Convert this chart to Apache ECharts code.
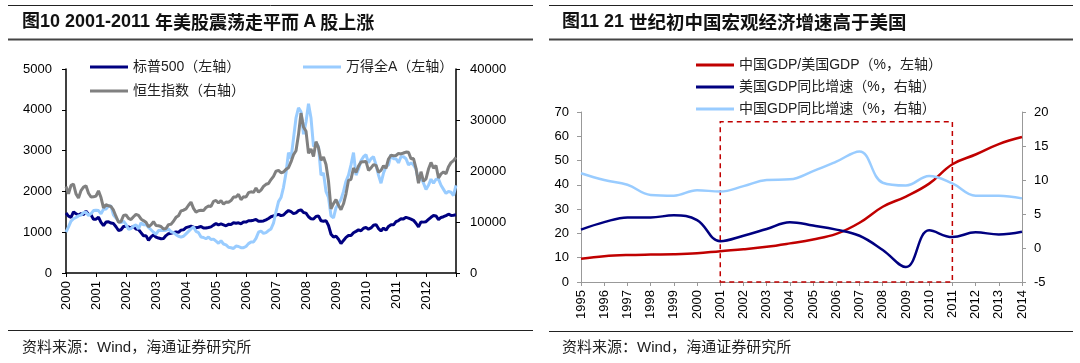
<!DOCTYPE html>
<html><head><meta charset="utf-8">
<script src="https://cdn.jsdelivr.net/npm/echarts@6/dist/echarts.min.js"></script>
<style>html,body{margin:0;padding:0;background:#fff}#c{width:1080px;height:363px}</style>
</head><body><div id="c"></div>
<script>
// ---------- Left chart: monthly closes, index 0 = start of 2000, step = 1 month ----------
const startYear = 2000;
const spx = [1469,
 1394,1366,1499,1452,1421,1455,1431,1518,1437,1429,1315,1320,
 1366,1240,1160,1249,1256,1224,1211,1134,1041,1060,1139,1148,
 1130,1107,1147,1077,1067,990,912,916,800,886,936,880,
 856,841,848,917,964,975,990,1008,996,1051,1058,1112,
 1131,1145,1126,1107,1121,1141,1102,1104,1115,1130,1174,1212,
 1181,1204,1181,1157,1192,1191,1234,1220,1229,1207,1249,1248,
 1280,1281,1295,1311,1270,1270,1277,1304,1336,1378,1401,1418,
 1438,1407,1421,1482,1531,1503,1455,1474,1527,1549,1481,1468,
 1379,1331,1323,1386,1400,1280,1267,1283,1165,950,880,903,
 826,720,798,873,919,919,987,1021,1057,1036,1096,1115,
 1074,1104,1169,1187,1089,1031,1102,1049,1141,1183,1181,1258,
 1286,1327,1326,1364,1345,1321,1292,1219,1131,1253,1247,1258,
 1312,1366,1408,1398,1310,1362,1379,1407,1441,1412,1416,1426];
const windA = [1000,
 1130,1270,1330,1360,1400,1420,1480,1490,1410,1450,1530,1540,
 1530,1450,1560,1570,1640,1640,1420,1350,1270,1230,1270,1190,
 1070,1090,1150,1180,1080,1230,1180,1190,1120,1060,1000,950,
 1040,1050,1040,1050,1080,1010,990,940,900,880,900,960,
 1020,1080,1130,1020,990,880,870,840,880,820,830,780,
 730,790,710,690,630,620,600,660,650,620,620,650,
 720,760,760,850,1000,1030,970,990,1040,1080,1220,1500,
 1750,1850,2100,2450,2950,2800,3300,3800,4050,3950,3400,3700,
 4150,3800,3100,3200,3100,2400,2450,2000,1850,1400,1350,1600,
 1700,1800,2000,2250,2400,2650,2950,2400,2550,2750,2850,2900,
 2700,2800,2850,2650,2400,2200,2450,2600,2650,2900,2800,2800,
 2700,2850,2850,2800,2650,2700,2650,2550,2250,2350,2200,2050,
 2150,2300,2200,2300,2300,2150,2050,1950,2000,1980,1900,2150];
const hsi = [16962,
 15532,17170,17407,15519,14713,16155,16841,17097,15648,14895,14937,15096,
 16102,14787,12761,13386,13174,13043,12317,11090,9951,10073,11279,11397,
 10725,10482,11033,11497,11301,10598,10268,9961,9072,9441,10069,9321,
 9258,9122,8634,8717,9487,9577,10134,10908,11229,12190,12317,12576,
 13289,13908,12682,11942,12198,12285,12239,12850,13120,13054,14060,14230,
 13721,14195,13516,13908,13867,14201,14880,14903,15429,14386,14937,14876,
 15753,15918,15805,16661,15857,16267,16971,17392,17543,18324,18960,19965,
 20107,19652,19800,20319,20635,21773,23185,23984,27142,31353,28643,27813,
 23456,24332,22849,25755,24533,22102,22731,21262,18016,12600,13600,14387,
 13278,12400,13576,15521,18171,18379,20573,19724,20955,21752,21822,21873,
 20122,20609,21239,21108,19765,20129,21030,20537,22359,23096,23008,23035,
 23447,23338,23528,23721,23684,22398,22440,20535,17592,19864,17989,18434,
 20390,21680,20556,21094,18630,19441,19796,19482,20840,21642,22030,22657];

// ---------- Right chart: annual ----------
const years = ['1995','1996','1997','1998','1999','2000','2001','2002','2003','2004',
 '2005','2006','2007','2008','2009','2010','2011','2012','2013','2014'];
const cnUsRatio = [9.6,10.6,11.1,11.3,11.4,11.8,12.7,13.5,14.5,15.9,17.5,19.8,24.4,31.0,35.2,40.5,48.5,52.5,56.8,59.7];
const usGrowth  = [2.7,3.8,4.5,4.5,4.8,4.1,1.0,1.8,2.8,3.8,3.3,2.7,1.8,-0.3,-2.8,2.6,1.6,2.3,2.0,2.4];
const cnGrowth  = [11.0,10.0,9.3,7.8,7.7,8.5,8.3,9.1,10.0,10.1,11.3,12.7,14.2,9.6,9.2,10.6,9.5,7.7,7.7,7.3];
const boxYears = ['2001','2011'];
const boxTop = 66;

const toXY = arr => arr.map((v,i)=>[startYear + i/12, v]);

const NAVY = '#000080', LBLUE = '#99CCFF', GRAY = '#808080', RED = '#C00000';
const FF = "'Liberation Sans', Arial, 'Noto Sans CJK SC', sans-serif";
const CJK = "'Noto Sans CJK SC', 'Liberation Sans', sans-serif";

const chart = echarts.init(document.getElementById('c'), null, {renderer:'canvas'});

const legendBase = (name, left, top) => ({
  data:[name], left, top, padding:0, itemWidth:38, itemHeight:3, icon:'rect',
  selectedMode:false,
  textStyle:{fontSize:14, color:'#222', fontFamily:FF}
});
const plain = v => String(v);

const option = {
  animation:false,
  backgroundColor:'#fff',
  grid:[
    {left:66, right:624, top:69, bottom:90},
    {left:581, right:58, top:112, bottom:81}
  ],
  legend:[
    legendBase('标普500（左轴）', 90, 60),
    legendBase('万得全A（左轴）', 303, 60),
    legendBase('恒生指数（右轴）', 90, 84),
    legendBase('中国GDP/美国GDP（%，左轴）', 696, 58),
    legendBase('美国GDP同比增速（%，右轴）', 696, 80),
    legendBase('中国GDP同比增速（%，右轴）', 696, 102)
  ],
  xAxis:[
    {type:'value', gridIndex:0, min:2000, max:2013, interval:1,
     axisLine:{lineStyle:{color:'#000', width:1.5}},
     axisTick:{show:true, length:4, lineStyle:{color:'#000'}},
     splitLine:{show:false},
     axisLabel:{rotate:90, margin:8, fontSize:13, color:'#000', fontFamily:FF,
       formatter:v => v >= 2013 ? '' : String(v)}},
    {type:'category', gridIndex:1, data:years, boundaryGap:false,
     axisLine:{lineStyle:{color:'#999', width:1}},
     axisTick:{show:true, length:4, interval:0, lineStyle:{color:'#999'}},
     axisLabel:{rotate:90, margin:8, fontSize:13, color:'#000', fontFamily:FF, interval:0}}
  ],
  yAxis:[
    {type:'value', gridIndex:0, min:0, max:5000, interval:1000,
     axisLine:{show:true, lineStyle:{color:'#000', width:1.5}},
     axisTick:{show:true, length:4, lineStyle:{color:'#000'}},
     splitLine:{show:false},
     axisLabel:{margin:14, fontSize:13, color:'#000', fontFamily:FF, formatter:plain}},
    {type:'value', gridIndex:0, position:'right', min:0, max:40000, interval:10000,
     axisLine:{show:true, lineStyle:{color:'#000', width:1.5}},
     axisTick:{show:true, length:4, lineStyle:{color:'#000'}},
     splitLine:{show:false},
     axisLabel:{margin:14, fontSize:13, color:'#000', fontFamily:FF, formatter:plain}},
    {type:'value', gridIndex:1, min:0, max:70, interval:10,
     axisLine:{show:true, lineStyle:{color:'#999', width:1}},
     axisTick:{show:true, length:4, lineStyle:{color:'#999'}},
     splitLine:{show:false},
     axisLabel:{margin:12, fontSize:13, color:'#000', fontFamily:FF, formatter:plain}},
    {type:'value', gridIndex:1, position:'right', min:-5, max:20, interval:5,
     axisLine:{show:true, lineStyle:{color:'#999', width:1}},
     axisTick:{show:true, length:4, lineStyle:{color:'#999'}},
     splitLine:{show:false},
     axisLabel:{margin:12, fontSize:13, color:'#000', fontFamily:FF, formatter:plain}}
  ],
  series:[
    {name:'标普500（左轴）', type:'line', xAxisIndex:0, yAxisIndex:0, data:toXY(spx),
     symbol:'none', lineStyle:{color:NAVY, width:3}, itemStyle:{color:NAVY}},
    {name:'万得全A（左轴）', type:'line', xAxisIndex:0, yAxisIndex:0, data:toXY(windA),
     symbol:'none', lineStyle:{color:LBLUE, width:3}, itemStyle:{color:LBLUE}},
    {name:'恒生指数（右轴）', type:'line', xAxisIndex:0, yAxisIndex:1, data:toXY(hsi),
     symbol:'none', lineStyle:{color:GRAY, width:3}, itemStyle:{color:GRAY}},
    {name:'中国GDP/美国GDP（%，左轴）', type:'line', xAxisIndex:1, yAxisIndex:2, data:cnUsRatio,
     symbol:'none', smooth:0.4, lineStyle:{color:RED, width:2.5}, itemStyle:{color:RED},
     markArea:{silent:true, itemStyle:{color:'rgba(0,0,0,0)', borderColor:RED, borderWidth:1.5, borderType:[5,4]},
       data:[[{xAxis:boxYears[0], yAxis:0},{xAxis:boxYears[1], yAxis:boxTop}]]}},
    {name:'美国GDP同比增速（%，右轴）', type:'line', xAxisIndex:1, yAxisIndex:3, data:usGrowth,
     symbol:'none', smooth:0.4, lineStyle:{color:NAVY, width:2.5}, itemStyle:{color:NAVY}},
    {name:'中国GDP同比增速（%，右轴）', type:'line', xAxisIndex:1, yAxisIndex:3, data:cnGrowth,
     symbol:'none', smooth:0.4, lineStyle:{color:LBLUE, width:2.5}, itemStyle:{color:LBLUE}}
  ],
  graphic:[
    {type:'line', silent:true, shape:{x1:8,y1:5.5,x2:533,y2:5.5}, style:{stroke:'#222', lineWidth:1}},
    {type:'line', silent:true, shape:{x1:8,y1:39.5,x2:533,y2:39.5}, style:{stroke:'#444', lineWidth:2}},
    {type:'line', silent:true, shape:{x1:549,y1:5.5,x2:1073,y2:5.5}, style:{stroke:'#222', lineWidth:1}},
    {type:'line', silent:true, shape:{x1:549,y1:39.5,x2:1073,y2:39.5}, style:{stroke:'#444', lineWidth:2}},
    {type:'line', silent:true, shape:{x1:8,y1:330.5,x2:533,y2:330.5}, style:{stroke:'#222', lineWidth:1.2}},
    {type:'line', silent:true, shape:{x1:549,y1:331.5,x2:1073,y2:331.5}, style:{stroke:'#222', lineWidth:1.2}},
    {type:'text', silent:true, style:{x:22, y:22, verticalAlign:'middle',
      text:'{b|图10 2001-2011 }{n|年美股震荡走平而 }{b|A}{n| 股上涨}',
      rich:{b:{fontSize:18, fontWeight:'bold', fontFamily:FF, fill:'#111'},
            n:{fontSize:18, fontWeight:'bold', fontFamily:CJK, fill:'#111'}}}},
    {type:'text', silent:true, style:{x:562, y:22, verticalAlign:'middle',
      text:'{b|图11 21 }{n|世纪初中国宏观经济增速高于美国}',
      rich:{b:{fontSize:18, fontWeight:'bold', fontFamily:FF, fill:'#111'},
            n:{fontSize:18.5, fontWeight:'bold', fontFamily:CJK, fill:'#111'}}}},
    {type:'text', silent:true, style:{x:22, y:348, verticalAlign:'middle',
      text:'资料来源：Wind，海通证券研究所', fontSize:15, fontFamily:FF, fill:'#222'}},
    {type:'text', silent:true, style:{x:562, y:348, verticalAlign:'middle',
      text:'资料来源：Wind，海通证券研究所', fontSize:15, fontFamily:FF, fill:'#222'}}
  ]
};
chart.setOption(option);
</script>
</body></html>
